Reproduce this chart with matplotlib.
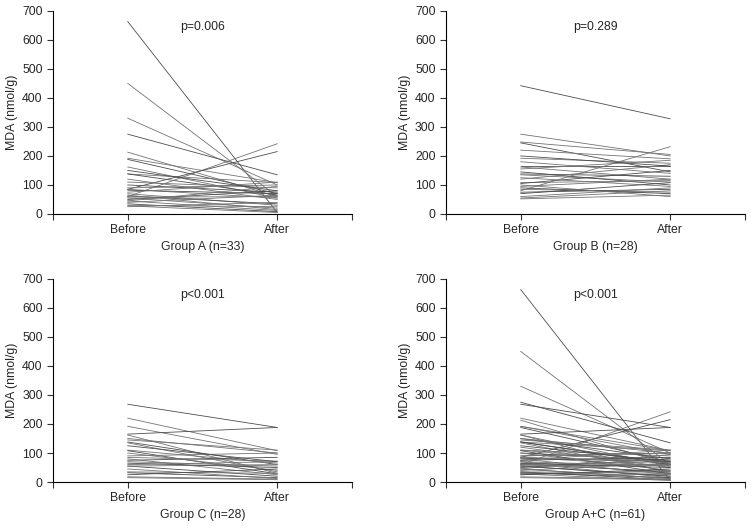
import matplotlib
matplotlib.use("Agg")
import matplotlib.pyplot as plt
import numpy as np

plt.rcParams['font.family'] = ['Liberation Sans', 'DejaVu Sans']

# MDA (nmol/g) before / after, one pair per patient
group_a_before = [663, 450, 330, 275, 213, 192, 188, 162, 138, 138, 110, 60, 85,
                  90, 85, 82, 75, 70, 62, 58, 55, 50, 45, 40, 35, 28, 25, 100,
                  120, 65, 150, 45, 30]
group_a_after = [5, 60, 100, 135, 60, 108, 70, 55, 108, 65, 90, 242, 215,
                 100, 55, 70, 110, 30, 35, 60, 20, 80, 12, 65, 8, 5, 40, 75,
                 50, 15, 80, 95, 25]

group_b_before = [442, 275, 248, 245, 220, 192, 165, 162, 155, 138, 135, 108, 105,
                  85, 80, 75, 55, 52, 145, 120, 95, 90, 180, 125, 70, 60, 100, 200]
group_b_after = [328, 200, 205, 145, 190, 175, 165, 120, 185, 130, 110, 115, 150,
                 75, 232, 85, 80, 65, 100, 170, 120, 70, 140, 95, 108, 90, 60, 165]

group_c_before = [268, 220, 192, 165, 162, 145, 138, 135, 110, 108, 90, 85, 75,
                  70, 60, 55, 55, 35, 32, 18, 15, 125, 100, 80, 65, 45, 150, 25]
group_c_after = [188, 108, 95, 188, 30, 110, 60, 35, 65, 28, 100, 72, 85,
                 55, 70, 20, 60, 30, 15, 10, 8, 70, 40, 25, 50, 12, 100, 45]

group_ac_before = group_a_before + group_c_before
group_ac_after = group_a_after + group_c_after

panels = [
    ("Group A (n=33)", "p=0.006", group_a_before, group_a_after),
    ("Group B (n=28)", "p=0.289", group_b_before, group_b_after),
    ("Group C (n=28)", "p<0.001", group_c_before, group_c_after),
    ("Group A+C (n=61)", "p<0.001", group_ac_before, group_ac_after),
]

fig = plt.figure(figsize=(7.53, 5.29), dpi=100)
positions = [
    [0.0704, 0.5955, 0.397, 0.384],
    [0.5923, 0.5955, 0.397, 0.384],
    [0.0704, 0.0888, 0.397, 0.384],
    [0.5923, 0.0888, 0.397, 0.384],
]

for pos, (xlabel, ptext, before, after) in zip(positions, panels):
    ax = fig.add_axes(pos)
    for i, (b, a) in enumerate(zip(before, after)):
        shade = '0.3' if i % 3 == 0 else '0.45'
        ax.plot([1, 2], [b, a], color=shade, lw=0.6)
    ax.set_xlim(0.5, 2.5)
    ax.set_ylim(0, 700)
    ax.set_yticks(np.arange(0, 701, 100))
    ax.set_xticks([0.5, 1, 2, 2.5])
    ax.set_xticklabels(['', 'Before', 'After', ''])
    ax.spines['top'].set_visible(False)
    ax.spines['right'].set_visible(False)
    ax.spines['left'].set_linewidth(0.8)
    ax.spines['bottom'].set_linewidth(0.8)
    ax.tick_params(axis='both', direction='out', length=4, width=0.8,
                   labelsize=8.8, color='0.2', labelcolor='0.15')
    ax.tick_params(axis='x', pad=3)
    ax.set_xlabel(xlabel, fontsize=8.8, color='0.15', labelpad=4)
    ax.set_ylabel('MDA (nmol/g)', fontsize=8.8, color='0.15', labelpad=3)
    ax.text(1.5, 645, ptext, ha='center', va='center', fontsize=8.8, color='0.15')

fig.savefig('out.png', dpi=100)
